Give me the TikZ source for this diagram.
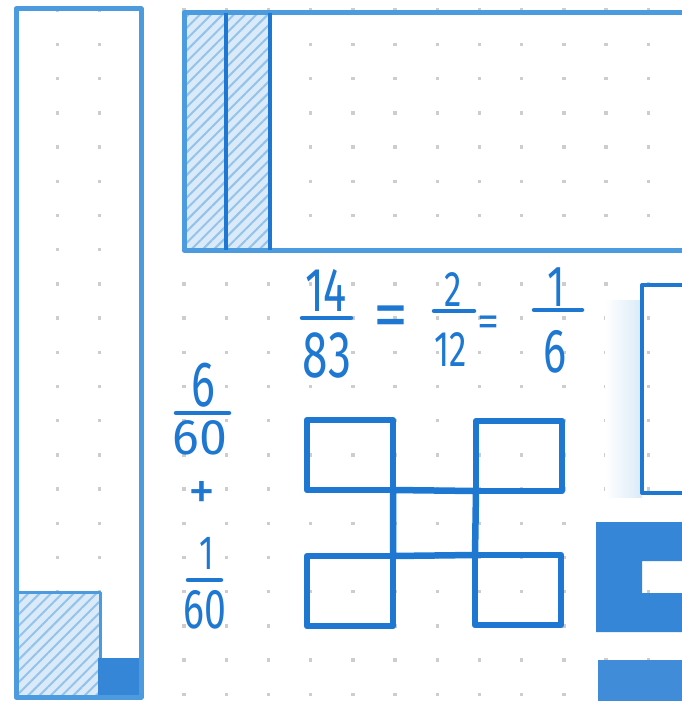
\documentclass[tikz,border=0pt]{standalone}
\usepackage{fontspec}
\setmainfont{Fira Sans}
\usetikzlibrary{patterns.meta}
\definecolor{crayon}{RGB}{30,120,210}
\definecolor{crayonlight}{RGB}{75,155,222}
\definecolor{hatchbg}{RGB}{218,234,248}
\definecolor{dotgrey}{RGB}{205,205,205}
\tikzset{
  hand/.style={text=crayon,inner sep=0pt,font=\fontsize{#1}{#1}\selectfont},
  bar/.style={crayon,line width=4.5pt,line cap=round},
  cell/.style={draw=crayon,line width=6.5pt,outer sep=0pt,inner sep=0pt,minimum width=86pt,minimum height=70pt},
  hatched/.style={pattern={Lines[angle=45,distance=8pt,line width=2pt]},pattern color=crayonlight!60}
}
\newcommand{\narrow}[1]{\scalebox{0.7}[1]{#1}}

\begin{document}
\begin{tikzpicture}[x=1pt,y=-1pt,line join=round]
  \useasboundingbox (0,0) rectangle (682,701);
  \fill[white] (0,0) rectangle (682,701);
  % dot grid
  \foreach \i in {0,...,16}
    \foreach \j in {0,...,20}
      \fill[dotgrey] ({13.5+42.2*\i},{8.5+34.2*\j}) rectangle ++(3.5,3.5);

  % tall strip on the left
  \fill[hatchbg] (18,592) rectangle (100,697);
  \fill[hatched] (18,592) rectangle (100,697);
  \draw[crayonlight,line width=3pt] (18,592) -- (100,592) -- (100,697);
  \fill[crayon!90] (98,658) rectangle (141,697);
  \draw[crayonlight,line width=5pt] (16,9) rectangle (141,697);

  % wide strip on top
  \fill[hatchbg] (184,13) rectangle (270,250);
  \fill[hatched] (184,13) rectangle (270,250);
  \draw[crayonlight,line width=5pt] (184,13) rectangle (700,250);
  \draw[crayon,line width=4pt] (226,13) -- (226,250) (270,13) -- (270,250);

  % right edge
  \shade[left color=white,right color=hatchbg] (605,300) rectangle (642,497);
  \draw[crayon,line width=4pt] (700,285) -- (642,285) -- (642,493) -- (700,493);
  \fill[crayon!90,even odd rule] (596,522) rectangle (700,632) (642,561) rectangle (700,593);
  \fill[crayon!85] (598,660) rectangle (700,710);

  % 14/83 = 2/12 = 1/6
  \node[hand=62] (n14) at (326,290) {\narrow{14}};
  \draw[bar] (302,318) -- (351,318);
  \node[hand=66] (n83) at (327,355) {\narrow{83}};
  \node[hand=70] (eqa) at (391,322) {=};
  \node[hand=50] (n2) at (453,290) {\narrow{2}};
  \draw[bar] (434,311) -- (474,311);
  \node[hand=50] (n12) at (451,350) {\narrow{12}};
  \node[hand=44] (eqb) at (488,326) {=};
  \node[hand=58] (n1) at (556,287) {\narrow{1}};
  \draw[bar] (534,310) -- (582,310);
  \node[hand=62] (n6) at (555,352) {\narrow{6}};

  % 6/60 + 1/60
  \node[hand=64] (m6) at (203,385) {\narrow{6}};
  \draw[bar] (176,413) -- (229,413);
  \node[hand=50] (m60) at (200,438) {60};
  \node[hand=54] (plus) at (202,495) {+};
  \node[hand=48] (m1) at (207,553) {\narrow{1}};
  \draw[bar] (188,580) -- (221,580);
  \node[hand=56] (m60b) at (205,610) {\narrow{60}};

  % four boxes joined by a cross
  \node[cell] (tl) at (350,455) {};
  \node[cell] (tr) at (519,456) {};
  \node[cell] (bl) at (350,591) {};
  \node[cell] (br) at (518,590) {};
  \draw[crayon,line width=6.5pt] (tl.south east) -- (tr.south west) (bl.north east) -- (br.north west)
    (tl.south east) -- (bl.north east) (tr.south west) -- (br.north west);
\end{tikzpicture}
\end{document}
